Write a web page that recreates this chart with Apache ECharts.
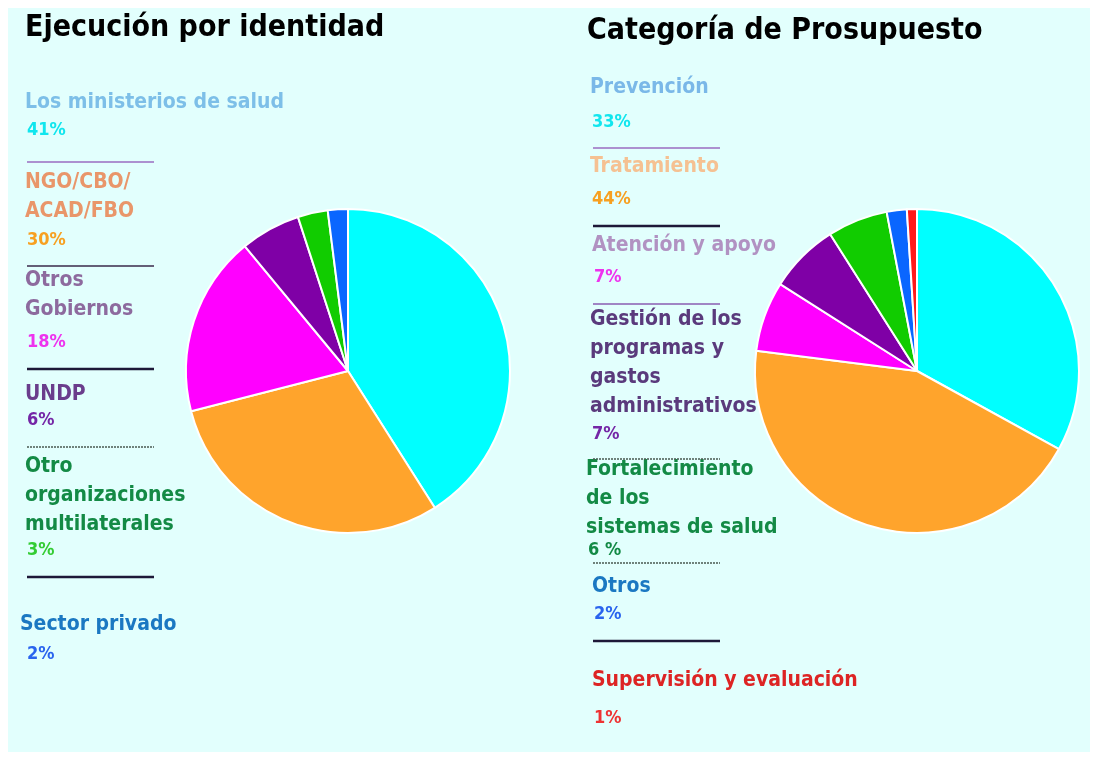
<!DOCTYPE html>
<html>
<head>
<meta charset="utf-8">
<script src="https://cdn.jsdelivr.net/npm/echarts@6/dist/echarts.min.js"></script>
<style>
  html, body { margin: 0; padding: 0; background: #fff; }
  #chart { width: 1094px; height: 757px; }
</style>
</head>
<body>
<div id="chart"></div>
<script>
// datos del gráfico
const leftTitle = "Ejecución por identidad";
const leftNames = ["Los ministerios de salud", "NGO/CBO/\nACAD/FBO", "Otros\nGobiernos", "UNDP", "Otro\norganizaciones\nmultilaterales", "Sector privado"];
const leftValues = [41, 30, 18, 6, 3, 2];
const leftPct = ["41%", "30%", "18%", "6%", "3%", "2%"];

const rightTitle = "Categoría de Prosupuesto";
const rightNames = ["Prevención", "Tratamiento", "Atención y apoyo", "Gestión de los\nprogramas y\ngastos\nadministrativos", "Fortalecimiento\nde los\nsistemas de salud", "Otros", "Supervisión y evaluación"];
const rightValues = [33, 44, 7, 7, 6, 2, 1];
const rightPct = ["33%", "44%", "7%", "7%", "6 %", "2%", "1%"];

const sliceColors = ["#00ffff", "#ffa42c", "#ff00ff", "#7f00a6", "#11cc00", "#0a66ff", "#ff1a1a"];
const nameColors = ["#7dbfe8", "#e9966a", "#8d6a9e", "#6a3d8c", "#138a45", "#1b78c2", "#dd2424"];
const pctColors = ["#10e6ee", "#f7a020", "#ee33ee", "#7426a6", "#33cc33", "#2a64ee", "#ee3333"];

const FONT = "'Liberation Sans Narrow', 'DejaVu Sans Condensed', Roboto, sans-serif";

const chart = echarts.init(document.getElementById("chart"));

function txt(x, y, text, color, size) {
  return {
    type: "text", x: x, y: y, silent: true,
    style: {
      text: text, fill: color, fontFamily: FONT, fontWeight: "bold",
      fontSize: size, lineHeight: 29, verticalAlign: "top"
    }
  };
}
function hline(x1, x2, y, color, width, dash) {
  return {
    type: "line", silent: true,
    shape: { x1: x1, y1: y, x2: x2, y2: y },
    style: { stroke: color, lineWidth: width, lineDash: dash || null }
  };
}

// colores de texto de la derecha
const rightNameCol = ["#7ab8e8", "#f5c192", "#b192c2", "#5a3a7c", "#138a45", "#1b78c2", "#dd2424"];
const rightPctCol = ["#10e6ee", "#f7a020", "#ee33ee", "#7426a6", "#138a45", "#2a64ee", "#ee3333"];

// posiciones de los textos
const leftNameY = [88, 168, 266, 380, 452, 610];
const leftPctY = [116, 226, 328, 406, 536, 640];
const leftLines = [[162, "#9a6cc0", 1.5], [266, "#3a2a4a", 1.5], [369, "#1e1838", 2.5], [447, "#4a5a50", 1.5, [2, 1]], [577, "#1e1838", 2.5]];

const rightNameX = [590, 590, 592, 590, 586, 592, 592];
const rightNameY = [73, 152, 231, 305, 455, 572, 666];
const rightPctY = [108, 185, 263, 420, 536, 600, 704];
const rightLines = [[148, "#9a6cc0", 1.5], [226, "#1e1838", 2.5], [304, "#8a5cb0", 1.5], [459, "#4a5a50", 1.5, [2, 1]], [563, "#4a5a50", 1.5, [2, 1]], [641, "#1e1838", 2.5]];

const graphics = [
  { type: "rect", silent: true, shape: { x: 8, y: 8, width: 1082, height: 744 }, style: { fill: "#e2fffd" } },
  txt(25, 14, leftTitle, "#000", 30),
  txt(587, 17, rightTitle, "#000", 30)
];
leftNames.forEach(function (n, i) {
  graphics.push(txt(i === 5 ? 20 : 25, leftNameY[i], n, nameColors[i], 21));
  graphics.push(txt(27, leftPctY[i], leftPct[i], pctColors[i], 18));
});
leftLines.forEach(function (l) { graphics.push(hline(27, 154, l[0], l[1], l[2], l[3])); });
rightNames.forEach(function (n, i) {
  graphics.push(txt(rightNameX[i], rightNameY[i], n, rightNameCol[i], 21));
  graphics.push(txt(rightNameX[i] + 2, rightPctY[i], rightPct[i], rightPctCol[i], 18));
});
rightLines.forEach(function (l) { graphics.push(hline(593, 720, l[0], l[1], l[2], l[3])); });

function pieSeries(names, values, cx) {
  return {
    type: "pie",
    center: [cx, 371],
    radius: 162,
    startAngle: 90,
    clockwise: true,
    silent: true,
    label: { show: false },
    labelLine: { show: false },
    itemStyle: { borderColor: "#ffffff", borderWidth: 2 },
    data: values.map(function (v, i) {
      return { name: names[i], value: v, itemStyle: { color: sliceColors[i] } };
    })
  };
}

chart.setOption({
  backgroundColor: "#ffffff",
  animation: false,
  graphic: { elements: graphics },
  series: [
    pieSeries(leftNames, leftValues, 348),
    pieSeries(rightNames, rightValues, 917)
  ]
});
</script>
</body>
</html>
